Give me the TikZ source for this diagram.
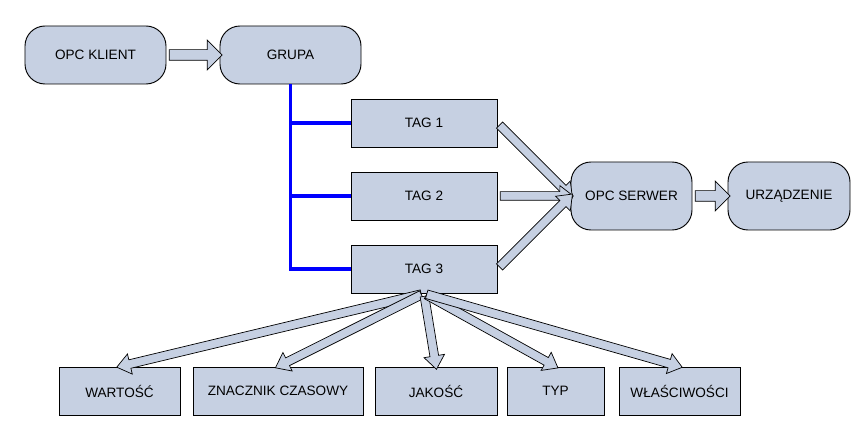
\documentclass[tikz,border=0pt]{standalone}
\usepackage{fontspec}
\setmainfont{Liberation Sans}
\usetikzlibrary{shapes.arrows,calc}
\definecolor{boxfill}{RGB}{198,208,226}
\newcommand{\fatarrow}[3][]{%
 \path let \p1=(#2), \p2=(#3), \n1={atan2(\y2-\y1,\x2-\x1)}, \n2={veclen(\x2-\x1,\y2-\y1)} in %
  node[arr,#1,minimum height=\n2,rotate=\n1] at ($(#2)!0.5!(#3)$) {};%
}

\begin{document}
\begin{tikzpicture}[x=0.03cm,y=-0.03cm,
  every node/.style={font=\fontsize{11.6}{14}\selectfont},
  rbox/.style={draw,fill=boxfill,line width=0.8pt,rounded corners=0.6cm,minimum height=1.74cm},
  sbox/.style={draw,fill=boxfill,line width=0.8pt,minimum height=1.44cm},
  arr/.style={single arrow,draw,fill=boxfill,line width=0.6pt,inner sep=0pt,
    text height=0.24cm,text depth=0pt,single arrow head extend=0.18cm,single arrow tip angle=75},
  bigarr/.style={text height=0.3cm,single arrow head extend=0.29cm,single arrow tip angle=90},
  bus/.style={draw=blue,line width=3.4pt}]
  \useasboundingbox (0,0) rectangle (863,431);
  % top row
  \node[rbox,minimum width=4.23cm] (klient) at (95.5,55) {OPC KLIENT};
  \node[rbox,minimum width=4.23cm] (grupa) at (290.5,55) {GRUPA};
  \node[sbox,minimum width=4.38cm] (tag1) at (424,123) {TAG 1};
  \node[sbox,minimum width=4.38cm] (tag2) at (424,196) {TAG 2};
  \node[sbox,minimum width=4.38cm] (tag3) at (424,269) {TAG 3};
  \node[rbox,minimum width=3.63cm,minimum height=2.04cm] (serwer) at (631.5,196) {OPC SERWER};
  \node[rbox,minimum width=3.66cm,minimum height=2.04cm] (urz) at (789,196) {URZĄDZENIE};
  % bottom row
  \node[sbox,minimum width=3.63cm] (wartosc) at (119.5,391) {WARTOŚĆ};
  \node[sbox,minimum width=5.10cm] (znacznik) at (278,391) {ZNACZNIK CZASOWY};
  \node[sbox,minimum width=3.66cm] (jakosc) at (436,391) {JAKOŚĆ};
  \node[sbox,minimum width=2.91cm] (typ) at (555.5,391) {TYP};
  \node[sbox,minimum width=3.63cm] (wlasc) at (679.5,391) {WŁAŚCIWOŚCI};
  % bus
  \draw[bus] (grupa.south) -- (grupa.south |- tag3.west) -- (tag3.west);
  \draw[bus] (grupa.south |- tag1.west) -- (tag1.west);
  \draw[bus] (grupa.south |- tag2.west) -- (tag2.west);
  % arrows
  \fatarrow[bigarr]{klient.east}{grupa.west}
  \fatarrow[bigarr]{serwer.east}{urz.west}
  \fatarrow{tag1.east}{serwer.west}
  \fatarrow{tag2.east}{serwer.west}
  \fatarrow{tag3.east}{serwer.west}
  \fatarrow{tag3.south}{wartosc.north}
  \fatarrow{tag3.south}{znacznik.north}
  \fatarrow{tag3.south}{jakosc.north}
  \fatarrow{tag3.south}{typ.north}
  \fatarrow{tag3.south}{wlasc.north}
\end{tikzpicture}
\end{document}
